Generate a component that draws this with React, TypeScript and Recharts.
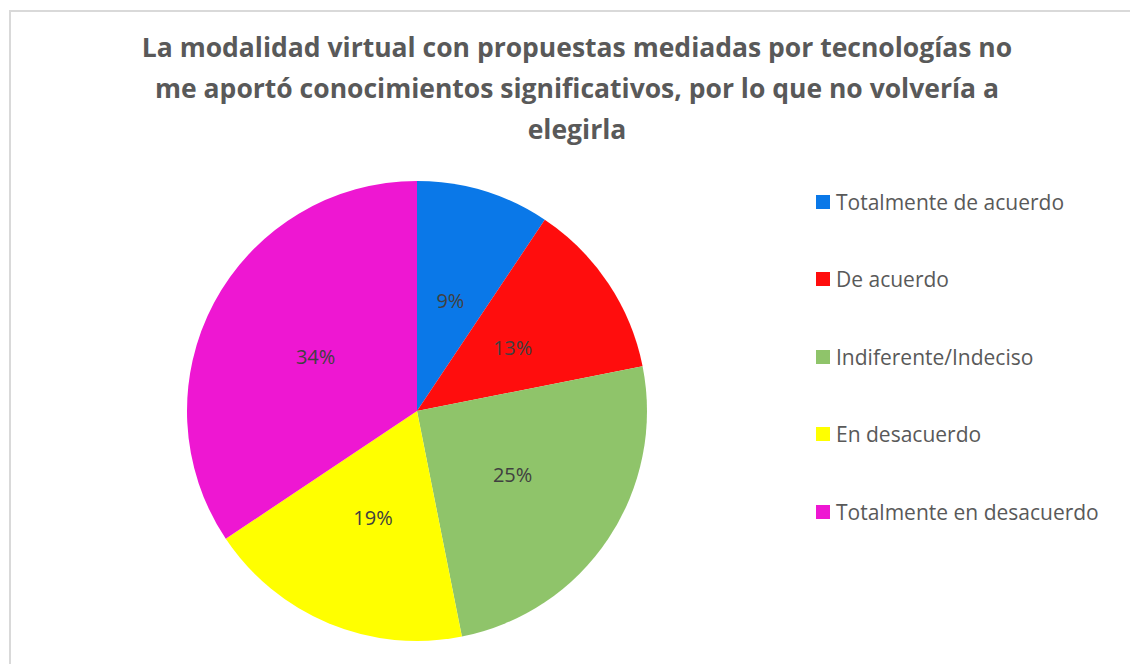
import React from "react";
import { PieChart, Pie, Cell } from "recharts";

const categories = [
  "Totalmente de acuerdo",
  "De acuerdo",
  "Indiferente/Indeciso",
  "En desacuerdo",
  "Totalmente en desacuerdo",
];
const counts = [3, 4, 8, 6, 11];
const colors = ["#0A78E8", "#FF0D0D", "#8FC46A", "#FFFF00", "#EE17D2"];
const titleLines = [
  "La modalidad virtual con propuestas mediadas por tecnologías no",
  "me aportó conocimientos significativos, por lo que no volvería a",
  "elegirla",
];

const total = counts.reduce((a, b) => a + b, 0);
const data = categories.map((name, i) => ({ name, value: counts[i] }));

const FONT = "'Open Sans', 'Noto Sans', sans-serif";
const RAD = Math.PI / 180;

const renderLabel = (props: any) => {
  const { cx, cy, midAngle, outerRadius, value } = props;
  const r = outerRadius * 0.5;
  const x = cx + r * Math.cos(-midAngle * RAD);
  const y = cy + r * Math.sin(-midAngle * RAD);
  return (
    <text
      x={x}
      y={y}
      textAnchor="middle"
      dominantBaseline="central"
      fill="#404040"
      fontSize={20}
      fontFamily={FONT}
    >
      {`${Math.round((value / total) * 100)}%`}
    </text>
  );
};

export default function App() {
  return (
    <div
      style={{
        position: "fixed",
        left: 0,
        top: 0,
        width: 1130,
        height: 664,
        overflow: "hidden",
        background: "#fff",
      }}
    >
      <div
        style={{
          position: "absolute",
          left: 9,
          top: 10,
          width: 1140,
          height: 680,
          border: "2px solid #d9d9d9",
          boxSizing: "border-box",
        }}
      />
      <div
        style={{
          position: "absolute",
          left: 14,
          top: 27,
          width: 1126,
          textAlign: "center",
          fontFamily: FONT,
          fontWeight: 700,
          fontSize: 26.5,
          lineHeight: "41px",
          color: "#595959",
        }}
      >
        {titleLines.map((l) => (
          <div key={l}>{l}</div>
        ))}
      </div>
      <div style={{ position: "absolute", left: 0, top: 0 }}>
        <PieChart width={1130} height={664} margin={{ top: 0, right: 0, bottom: 0, left: 0 }}>
          <Pie
            data={data}
            dataKey="value"
            nameKey="name"
            cx={417}
            cy={411}
            outerRadius={230}
            startAngle={90}
            endAngle={-270}
            stroke="none"
            label={renderLabel}
            labelLine={false}
            isAnimationActive={false}
          >
            {data.map((d, i) => (
              <Cell key={d.name} fill={colors[i]} />
            ))}
          </Pie>
        </PieChart>
      </div>
      <div
        style={{
          position: "absolute",
          left: 816,
          top: 163,
          width: 310,
          fontFamily: FONT,
        }}
      >
        {categories.map((c, i) => (
          <div
            key={c}
            style={{ display: "flex", alignItems: "center", height: 77.5 }}
          >
            <div
              style={{
                width: 14,
                height: 14,
                background: colors[i],
                marginRight: 6,
                flexShrink: 0,
              }}
            />
            <span style={{ fontSize: 21, color: "#595959", whiteSpace: "nowrap" }}>{c}</span>
          </div>
        ))}
      </div>
    </div>
  );
}
